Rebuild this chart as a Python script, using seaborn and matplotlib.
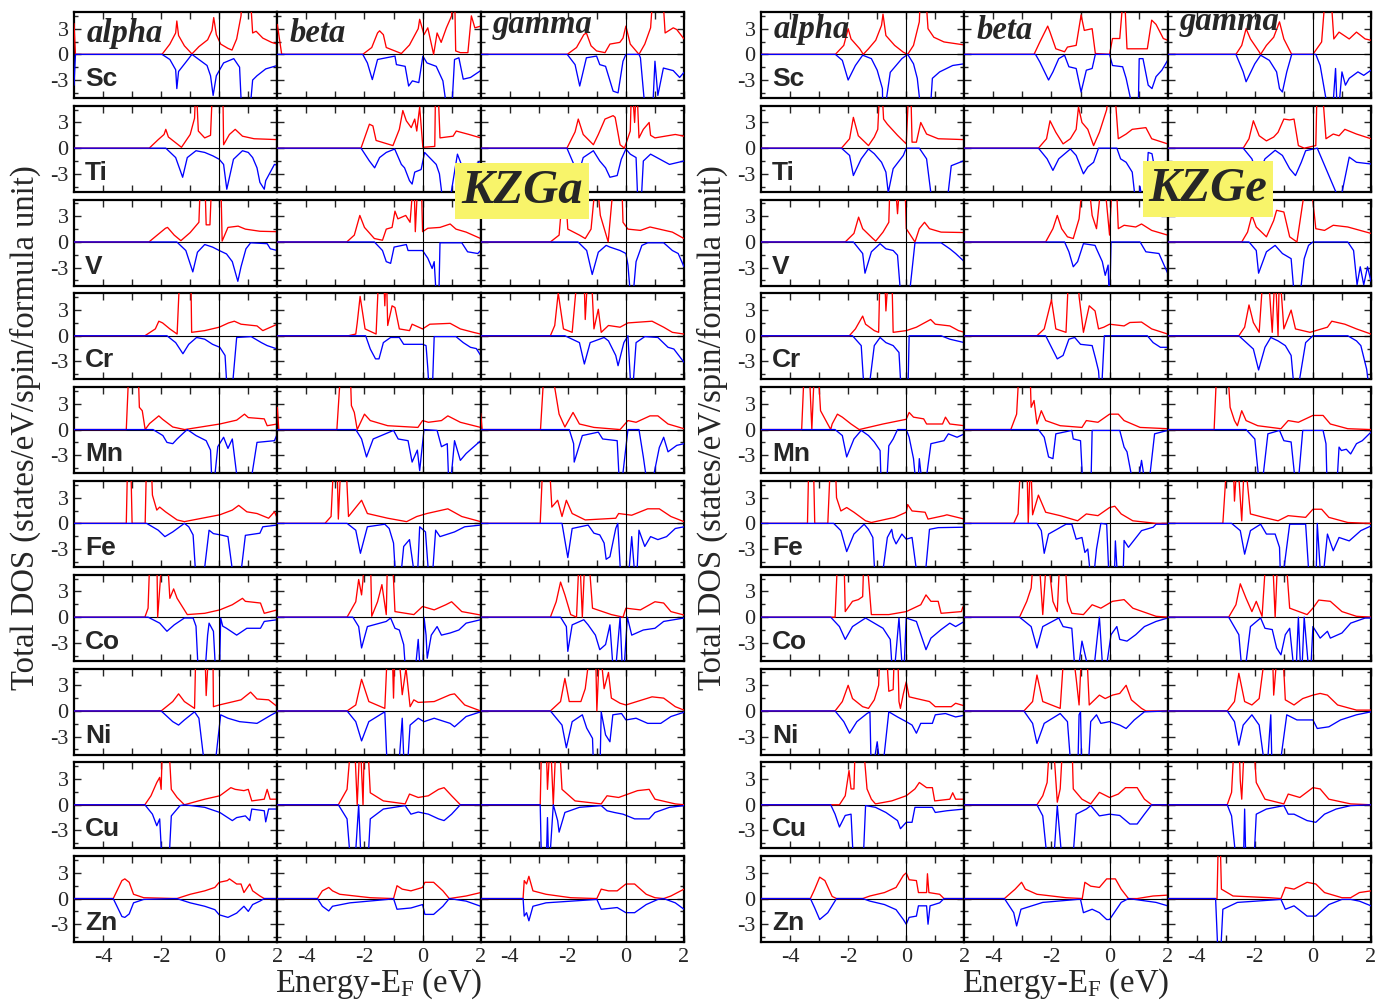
import matplotlib
matplotlib.use("Agg")
import matplotlib.pyplot as plt
import seaborn as sns

# ---------------- categories / labels ----------------
ELEMENTS = ['Sc', 'Ti', 'V', 'Cr', 'Mn', 'Fe', 'Co', 'Ni', 'Cu', 'Zn']
STRUCTS = ['alpha', 'beta', 'gamma']
COMPOUNDS = ['ga', 'ge']
COMPOUND_LABELS = {'ga': 'KZGa', 'ge': 'KZGe'}
X_TICKS = [-4, -2, 0, 2]
Y_TICKS = [-3, 0, 3]
X_LABEL = 'Energy-E$_{\\mathrm{F}}$ (eV)'
Y_LABEL = 'Total DOS (states/eV/spin/formula unit)'

# ---------------- DOS data (energy eV, DOS) ; spin-up = red, spin-down = blue ----------------
# ---- KZGa ----
ga_alpha_Sc_up = [(-5.0,3.6),(-4.95,0),(-1.97,0),(-1.7,1.2),(-1.5,2.5),(-1.46,3.9),(-1.4,2.2),(-1.2,1.0),(-0.94,0.05),(-0.7,0.9),(-0.4,1.7),(-0.25,2.8),(-0.19,4.3),(-0.1,2.3),(0.05,1.2),(0.3,0.7),(0.44,0.5),(0.6,1.8),(0.75,4.5),(0.8,8),(1.05,8),(1.15,2.5),(1.27,2.7),(1.5,1.9),(1.8,1.4),(2.0,1.2)]
ga_alpha_Sc_dn = [(-5.0,-3.6),(-4.95,0),(-1.97,0),(-1.7,-0.6),(-1.5,-1.8),(-1.46,-4.0),(-1.4,-2.0),(-1.1,-0.7),(-0.94,0),(-0.7,-0.6),(-0.42,-1.3),(-0.3,-2.5),(-0.21,-4.8),(-0.1,-2.5),(0.15,-1.0),(0.5,-0.5),(0.7,-1.5),(0.79,-8),(1.02,-8),(1.15,-3.0),(1.3,-2.5),(1.6,-1.7),(2.0,-1.3)]
ga_beta_Sc_up = [(-5.0,3.5),(-4.85,0),(-2.06,0),(-1.75,0.8),(-1.55,2.5),(-1.48,2.75),(-1.35,2.3),(-1.25,0.8),(-0.73,0.1),(-0.45,1.1),(-0.15,3.0),(-0.1,4.1),(0.05,2.3),(0.18,3.1),(0.38,0.0),(0.5,2.5),(0.64,1.4),(0.82,3.1),(1.0,4.5),(1.05,8),(1.1,8),(1.14,0.4),(1.3,0.2),(1.56,0.2),(1.68,4.5),(1.8,3.1),(2.0,3.3)]
ga_beta_Sc_dn = [(-2.06,0),(-1.9,-1.0),(-1.73,-2.95),(-1.55,-0.6),(-1.25,-0.4),(-0.95,-0.2),(-0.9,-1.2),(-0.6,-1.4),(-0.48,-3.7),(-0.35,-3.1),(-0.13,-3.3),(0.01,-0.2),(0.15,-1.0),(0.47,-1.4),(0.7,-3.1),(0.9,-8),(0.98,-8),(1.1,-0.6),(1.25,-0.4),(1.4,-2.9),(1.65,-2.7),(2.0,-1.9)]
ga_gamma_Sc_up = [(-2.02,0),(-1.7,0.8),(-1.45,2.3),(-1.36,2.5),(-1.2,1.0),(-1.01,0.4),(-0.72,0.2),(-0.55,1.2),(-0.21,1.4),(-0.1,1.9),(0.0,3.3),(0.15,1.2),(0.45,0.0),(0.65,1.2),(0.85,3.1),(0.95,8),(1.25,8),(1.35,2.5),(1.63,3.1),(1.75,2.9),(2.0,1.8)]
ga_gamma_Sc_dn = [(-2.02,0),(-1.75,-1.2),(-1.59,-3.7),(-1.36,-0.4),(-1.01,-0.2),(-0.9,-1.2),(-0.7,-1.4),(-0.44,-4.3),(-0.27,-4.5),(-0.1,-0.8),(0.0,0),(0.45,0),(0.5,-0.4),(0.7,-8),(0.9,-8),(1.0,-0.8),(1.1,-4.8),(1.29,-1.6),(1.63,-1.9),(1.85,-2.7),(2.0,-2.1)]

ga_alpha_Ti_up = [(-2.41,0),(-2.1,1.0),(-1.9,1.6),(-1.84,2.2),(-1.75,1.3),(-1.3,0.1),(-1.0,1.6),(-0.85,3.5),(-0.8,8),(-0.72,2.0),(-0.5,1.2),(-0.3,1.5),(-0.22,8),(0.12,8),(0.15,0.4),(0.35,1.6),(0.55,2.2),(0.8,1.4),(1.2,1.1),(2.0,1.0)]
ga_alpha_Ti_dn = [(-1.84,0),(-1.5,-1.1),(-1.26,-3.4),(-1.1,-1.1),(-0.8,-0.3),(-0.5,-0.5),(-0.22,-0.9),(0.0,-1.3),(0.15,-1.9),(0.26,-4.8),(0.49,-1.3),(0.8,-0.3),(1.0,-0.5),(1.15,-1.1),(1.3,-2.3),(1.4,-4.0),(1.55,-4.8),(1.6,-3.8),(1.9,-1.9),(2.0,-2.0)]
ga_beta_Ti_up = [(-2.12,0),(-1.83,2.8),(-1.71,2.6),(-1.6,0.9),(-1.02,0.3),(-0.8,2.2),(-0.68,4.4),(-0.56,3.2),(-0.39,2.4),(-0.27,3.4),(-0.2,2.0),(-0.1,4.8),(0.01,0.1),(0.42,0.2),(0.45,8),(0.52,8),(0.6,1.2),(1.05,1.4),(1.16,2.0),(1.6,1.6),(2.0,1.2)]
ga_beta_Ti_dn = [(-2.12,0),(-1.83,-1.5),(-1.65,-2.3),(-1.48,-1.1),(-1.25,-0.5),(-0.96,-0.1),(-0.73,-1.9),(-0.62,-2.3),(-0.45,-3.8),(-0.36,-4.2),(-0.27,-2.8),(-0.05,-2.5),(0.07,-0.5),(0.24,-1.1),(0.47,-1.9),(0.58,-3.0),(0.76,-8),(0.85,-8),(1.2,-0.7),(1.38,-2.3),(1.73,-2.1),(2.0,-1.5)]
ga_gamma_Ti_up = [(-2.03,0),(-1.75,1.9),(-1.64,3.4),(-1.47,1.6),(-1.12,0.4),(-0.95,1.6),(-0.72,3.4),(-0.44,3.8),(-0.37,3.6),(-0.2,0.4),(-0.05,0.0),(0.15,2.0),(0.2,8),(0.3,3.0),(0.37,8),(0.45,1.2),(0.6,2.2),(0.8,3.0),(0.85,1.5),(1.0,1.2),(1.7,1.6),(2.0,1.4)]
ga_gamma_Ti_dn = [(-2.03,0),(-1.64,-3.1),(-1.47,-1.1),(-1.12,-0.3),(-0.9,-1.5),(-0.7,-2.3),(-0.55,-3.4),(-0.3,-3.2),(-0.16,-1.3),(0.0,-0.1),(0.15,-0.7),(0.35,-1.1),(0.43,-8),(0.5,-8),(0.6,-1.5),(0.85,-0.7),(1.5,-1.9),(2.0,-1.5)]

ga_alpha_V_up = [(-2.42,0),(-2.1,0.9),(-1.85,1.6),(-1.78,1.7),(-1.55,0.8),(-1.32,0.15),(-1.0,1.1),(-0.7,2.3),(-0.64,8),(-0.5,8),(-0.45,2.0),(-0.32,2.0),(-0.25,8),(0.05,8),(0.1,0.1),(0.3,1.7),(0.65,1.85),(0.9,1.5),(1.4,1.25),(2.0,1.2)]
ga_alpha_V_dn = [(-1.46,0),(-1.15,-1.0),(-0.91,-3.5),(-0.75,-1.2),(-0.5,-0.3),(-0.23,-0.6),(0.0,-1.0),(0.25,-1.4),(0.45,-2.3),(0.64,-4.6),(0.75,-2.9),(0.92,-0.8),(1.08,-0.1),(1.65,-0.2),(1.76,-0.8),(2.0,-1.0)]
ga_beta_V_up = [(-2.61,0),(-2.35,0.8),(-2.16,3.1),(-2.0,1.7),(-1.66,0.4),(-1.38,0.2),(-1.25,1.5),(-1.05,1.7),(-0.95,3.6),(-0.85,2.7),(-0.58,3.1),(-0.43,2.3),(-0.3,8),(-0.25,1.2),(-0.15,8),(-0.05,8),(0.0,1.2),(0.18,1.6),(0.6,1.7),(0.95,2.1),(1.15,1.5),(1.5,1.15),(2.0,0.4)]
ga_beta_V_dn = [(-1.66,0),(-1.38,-1.0),(-1.25,-2.3),(-1.1,-2.5),(-0.98,-0.6),(-0.56,-0.3),(-0.5,-1.0),(0.0,-1.0),(0.18,-1.9),(0.33,-3.1),(0.4,-2.3),(0.5,-8),(0.55,-8),(0.6,-0.1),(1.35,-0.1),(1.55,-1.15),(1.9,-1.35),(2.0,-1.0)]
ga_gamma_V_up = [(-2.6,0),(-2.3,0.8),(-2.12,8),(-2.0,1.5),(-1.6,0.8),(-1.4,0.4),(-1.2,1.5),(-1.02,8),(-0.88,3.1),(-0.61,0.0),(-0.4,8),(-0.15,8),(-0.1,2.3),(0.07,1.5),(0.5,1.35),(0.83,1.75),(1.6,1.15),(2.0,0.4)]
ga_gamma_V_dn = [(-1.65,0),(-1.35,-1.0),(-1.16,-3.8),(-0.95,-1.2),(-0.68,-0.4),(-0.55,-0.6),(-0.2,-1.0),(0.0,-1.35),(0.07,-2.7),(0.2,-8),(0.35,-2.3),(0.55,-0.4),(0.75,-0.1),(1.3,-0.1),(1.6,-1.0),(1.8,-1.35),(2.0,-2.9)]

ga_alpha_Cr_up = [(-2.56,0),(-2.2,0.8),(-2.08,1.7),(-1.95,1.5),(-1.7,0.8),(-1.45,0.2),(-1.35,8),(-0.98,8),(-0.95,0.4),(-0.5,0.6),(0.0,1.0),(0.32,1.5),(0.52,1.7),(0.75,1.35),(1.3,1.15),(1.5,0.6),(2.0,1.35)]
ga_alpha_Cr_dn = [(-1.8,0),(-1.5,-0.8),(-1.25,-2.1),(-1.05,-1.0),(-0.78,-0.2),(-0.5,-0.4),(-0.23,-1.0),(0.02,-1.35),(0.2,-2.3),(0.3,-8),(0.4,-8),(0.6,-0.2),(1.1,-0.1),(1.45,-0.8),(1.65,-1.15),(2.0,-1.55)]
ga_beta_Cr_up = [(-2.56,0),(-2.3,0.2),(-2.25,1.5),(-2.15,4.6),(-1.98,0.8),(-1.6,0.2),(-1.5,8),(-1.35,8),(-1.3,3.5),(-1.25,8),(-1.2,1.2),(-1.05,3.5),(-0.95,3.3),(-0.8,0.8),(-0.45,0.6),(-0.36,1.35),(0.0,0.8),(0.25,1.35),(0.95,1.45),(1.3,0.8),(1.75,0.4),(2.0,0.2)]
ga_beta_Cr_dn = [(-1.96,0),(-1.8,-1.55),(-1.62,-2.7),(-1.5,-2.7),(-1.35,-0.8),(-1.1,-0.2),(-0.8,-0.2),(-0.65,-1.0),(0.0,-1.0),(0.12,-1.15),(0.18,-3.8),(0.25,-8),(0.32,-8),(0.4,-0.1),(1.15,-0.1),(1.4,-0.8),(1.65,-1.35),(1.85,-1.5),(2.0,-2.3)]
ga_gamma_Cr_up = [(-2.6,0),(-2.45,1.2),(-2.33,5.0),(-2.15,0.8),(-1.85,0.4),(-1.65,8),(-1.45,8),(-1.4,1.9),(-1.3,8),(-1.2,8),(-1.1,0.8),(-0.95,3.1),(-0.85,0.4),(-0.6,1.2),(-0.2,1.0),(0.07,1.5),(0.9,1.7),(1.3,1.0),(1.6,0.4),(2.0,0.2)]
ga_gamma_Cr_dn = [(-2.1,0),(-1.6,-0.8),(-1.43,-3.3),(-1.23,-0.8),(-0.75,-0.2),(-0.6,-0.6),(-0.35,-2.3),(-0.27,-3.5),(-0.07,-0.8),(0.07,0),(0.2,-8),(0.35,-0.8),(0.65,-0.1),(1.1,-0.2),(1.45,-1.35),(1.65,-1.55),(2.0,-3.1)]

ga_alpha_Mn_up = [(-3.2,0),(-3.1,8),(-2.8,8),(-2.75,2.6),(-2.65,2.2),(-2.55,0),(-2.4,0.7),(-2.08,1.6),(-1.95,1.2),(-1.6,0.3),(-1.19,0),(0.02,0.65),(0.6,1.1),(0.87,1.8),(1.0,1.4),(1.55,1.25),(1.65,0.45),(2.0,0.65)]
ga_alpha_Mn_dn = [(-2.28,0),(-1.94,-0.7),(-1.8,-1.5),(-1.6,-1.65),(-1.45,-1.1),(-1.2,-0.3),(-1.1,0),(-0.8,-0.7),(-0.45,-1.3),(-0.3,-2.4),(-0.23,-8),(-0.05,-2.0),(0.15,-0.9),(0.3,-2.2),(0.45,-1.1),(0.7,-8),(1.0,-8),(1.3,-1.5),(1.9,-1.3),(2.0,-0.5)]
ga_beta_Mn_up = [(-5.0,2.6),(-4.95,0),(-2.95,0),(-2.8,8),(-2.5,8),(-2.45,2.8),(-2.35,2.0),(-2.25,0),(-2.0,1.8),(-1.8,1.05),(-1.2,0.45),(-0.16,0.25),(0.0,1.05),(0.2,0.85),(0.65,1.05),(0.87,1.6),(1.3,0.85),(2.0,0.25)]
ga_beta_Mn_dn = [(-2.3,0),(-2.1,-1.1),(-1.93,-3.2),(-1.7,-1.1),(-1.0,-0.1),(-0.84,-1.1),(-0.5,-1.3),(-0.36,-3.8),(-0.18,-2.4),(-0.1,-4.8),(0.05,0),(0.5,-0.1),(0.65,-2.0),(0.85,-1.65),(0.92,-8),(1.1,-1.3),(1.3,-3.6),(1.5,-2.8),(2.0,-1.3)]
ga_gamma_Mn_up = [(-5.0,1.9),(-4.95,0),(-2.94,0),(-2.8,8),(-2.6,8),(-2.3,1.8),(-2.1,0.3),(-1.82,2.0),(-1.6,0.65),(-1.1,0.25),(-0.2,0.0),(0.07,1.05),(0.35,0.85),(0.83,1.6),(1.1,1.6),(1.45,0.65),(2.0,0.1)]
ga_gamma_Mn_dn = [(-1.95,0),(-1.8,-1.65),(-1.78,-3.8),(-1.5,-0.7),(-0.95,-0.3),(-0.8,-1.1),(-0.3,-1.3),(-0.2,-8),(0.07,0),(0.45,0),(0.6,-3.2),(0.8,-8),(1.15,-2.1),(1.3,-0.9),(1.45,-2.6),(1.75,-1.85),(2.0,-1.65)]

ga_alpha_Fe_up = [(-3.2,0),(-3.15,8),(-3.05,8),(-3.0,0),(-2.55,0),(-2.5,8),(-2.35,8),(-2.3,3.3),(-2.15,1.55),(-2.05,1.9),(-1.85,1.35),(-1.45,0.4),(-1.2,0.2),(0.02,1.0),(0.45,1.55),(0.67,2.1),(0.95,1.35),(1.3,1.15),(1.7,0.6),(1.9,1.35),(2.0,0.6)]
ga_alpha_Fe_dn = [(-2.5,0),(-2.1,-0.8),(-1.87,-1.55),(-1.6,-1.0),(-1.2,0),(-1.05,-0.4),(-0.9,-1.35),(-0.77,-8),(-0.6,-8),(-0.35,-0.8),(-0.2,-1.2),(0.05,-1.35),(0.3,-1.55),(0.55,-8),(0.67,-8),(0.9,-1.4),(1.4,-1.15),(1.5,-0.4),(2.0,-0.2)]
ga_beta_Fe_up = [(-3.36,0),(-3.15,0.8),(-3.05,8),(-2.95,8),(-2.9,0.5),(-2.8,8),(-2.65,8),(-2.55,0.8),(-2.1,2.7),(-1.9,1.15),(-1.2,0.6),(-0.55,0.2),(-0.2,0.8),(0.15,1.15),(0.87,1.7),(1.35,0.8),(2.0,0.2)]
ga_beta_Fe_dn = [(-2.6,0),(-2.3,-0.8),(-2.14,-3.5),(-1.9,-0.4),(-1.3,-0.1),(-1.15,-0.6),(-1.0,-2.3),(-0.9,-8),(-0.8,-8),(-0.65,-2.7),(-0.45,-1.9),(-0.2,-8),(-0.1,-0.4),(0.1,-1.0),(0.25,-8),(0.3,-8),(0.45,-0.8),(0.6,-1.55),(1.1,-1.0),(1.45,-0.4),(2.0,-0.2)]
ga_gamma_Fe_up = [(-2.95,0),(-2.85,8),(-2.65,8),(-2.55,1.9),(-2.35,2.7),(-2.2,0.8),(-2.05,2.7),(-1.85,1.15),(-1.4,0.4),(-0.35,0.6),(-0.25,1.15),(0.2,0.95),(0.75,1.7),(1.15,1.7),(1.55,0.8),(2.0,0.2)]
ga_gamma_Fe_dn = [(-2.2,0),(-2.0,-4.0),(-1.85,-0.6),(-1.3,-0.2),(-1.1,-1.15),(-0.9,-1.35),(-0.75,-2.3),(-0.68,-4.2),(-0.55,-3.9),(-0.35,-0.6),(-0.28,0),(-0.15,-8),(0.05,-8),(0.2,-1.55),(0.35,-8),(0.45,-0.8),(0.65,-2.7),(0.85,-1.55),(1.1,-1.9),(1.4,-1.55),(1.7,-0.6),(2.0,-0.4)]

ga_alpha_Co_up = [(-2.56,0),(-2.45,1.05),(-2.38,8),(-2.15,8),(-2.12,0),(-2.05,3.3),(-1.95,8),(-1.8,8),(-1.7,2.2),(-1.57,3.3),(-1.45,2.2),(-1.1,0.3),(-0.5,0.45),(0.02,0.85),(0.45,1.45),(0.8,2.2),(0.9,1.85),(1.42,1.65),(1.55,0.45),(2.0,0.85)]
ga_alpha_Co_dn = [(-2.45,0),(-2.05,-0.7),(-1.8,-1.65),(-1.55,-0.9),(-1.2,-0.1),(-0.9,-0.1),(-0.8,-1.05),(-0.7,-8),(-0.52,-8),(-0.4,-2.1),(-0.35,-0.7),(-0.2,-1.65),(-0.1,-8),(0.0,-8),(0.05,-0.1),(0.12,-1.05),(0.25,-1.3),(0.6,-2.1),(0.95,-1.3),(1.42,-1.3),(1.55,-0.5),(2.0,-0.3)]
ga_beta_Co_up = [(-2.6,0),(-2.3,1.8),(-2.2,4.4),(-2.1,2.6),(-2.05,4.4),(-1.98,8),(-1.8,8),(-1.75,0.1),(-1.55,1.8),(-1.4,3.8),(-1.25,0.3),(-1.2,8),(-1.05,8),(-0.95,0.65),(-0.3,0.3),(0.0,1.25),(0.4,0.85),(0.8,1.45),(1.0,1.8),(1.35,0.65),(2.0,0.25)]
ga_beta_Co_dn = [(-2.4,0),(-2.2,-1.1),(-2.1,-3.6),(-1.9,-1.1),(-1.25,-0.5),(-1.1,-0.1),(-0.95,-1.3),(-0.8,-1.5),(-0.65,-3.2),(-0.55,-8),(-0.3,-8),(-0.15,-2.6),(-0.05,-8),(0.0,-8),(0.05,0),(0.12,-2.1),(0.16,-4.8),(0.3,-2.1),(0.5,-1.1),(0.65,-2.1),(0.95,-1.85),(1.25,-1.5),(1.5,-0.7),(2.0,-0.3)]
ga_gamma_Co_up = [(-2.6,0),(-2.4,1.8),(-2.25,4.1),(-2.1,2.6),(-1.9,0.3),(-1.7,0),(-1.6,8),(-1.5,0),(-1.4,8),(-1.3,8),(-1.15,1.05),(-0.5,0.3),(-0.1,0),(0.0,1.05),(0.5,0.85),(1.0,1.8),(1.3,1.65),(1.55,0.65),(2.0,0.25)]
ga_gamma_Co_dn = [(-2.25,0),(-2.05,-1.1),(-2.0,-4.0),(-1.85,-0.9),(-1.45,-0.3),(-1.3,-0.9),(-1.05,-2.1),(-0.9,-3.8),(-0.7,-3.2),(-0.55,-0.9),(-0.4,-8),(-0.2,0),(-0.1,-8),(0.05,0),(0.2,-2.1),(0.6,-1.5),(1.0,-1.3),(1.3,-0.5),(2.0,-0.1)]

ga_alpha_Ni_up = [(-2.0,0),(-1.6,1.1),(-1.4,2.0),(-1.2,1.1),(-0.85,0.3),(-0.8,8),(-0.5,8),(-0.45,1.8),(-0.35,8),(-0.22,8),(-0.2,0.5),(0.0,0.7),(0.75,1.3),(1.08,2.2),(1.3,1.4),(1.7,1.3),(2.0,0.5)]
ga_alpha_Ni_dn = [(-2.0,0),(-1.6,-1.25),(-1.4,-1.65),(-1.2,-1.05),(-0.85,-0.1),(-0.7,-0.85),(-0.45,-8),(-0.2,-8),(0.05,-0.45),(0.3,-0.85),(0.7,-1.25),(1.3,-1.45),(1.8,-0.45),(2.0,-0.1)]
ga_beta_Ni_up = [(-2.6,0),(-2.3,0.7),(-2.1,3.7),(-1.85,1.1),(-1.3,0.3),(-1.2,8),(-1.05,8),(-1.0,1.5),(-0.95,8),(-0.85,8),(-0.7,1.9),(-0.57,5.0),(-0.43,0.5),(-0.3,1.3),(-0.15,1.0),(0.4,1.1),(0.95,1.9),(1.1,2.0),(1.45,0.7),(2.0,0)]
ga_beta_Ni_dn = [(-2.6,0),(-2.3,-1.25),(-2.1,-3.5),(-1.85,-1.25),(-1.3,-0.1),(-1.2,-8),(-0.85,-8),(-0.7,-0.85),(-0.62,-8),(-0.55,-8),(-0.43,-1.65),(-0.15,-0.85),(0.05,-1.25),(0.4,-0.85),(0.95,-1.45),(1.1,-1.85),(1.5,-0.65),(2.0,-0.1)]
ga_gamma_Ni_up = [(-2.6,0),(-2.25,1.1),(-2.1,3.8),(-1.95,1.1),(-1.55,1.1),(-1.4,2.6),(-1.2,8),(-1.05,8),(-1.0,0),(-0.9,8),(-0.75,2.6),(-0.6,4.5),(-0.5,1.5),(-0.2,0.9),(0.0,0.7),(0.9,1.65),(1.3,1.5),(1.7,0.5),(2.0,0.1)]
ga_gamma_Ni_dn = [(-2.6,0),(-2.2,-1.65),(-2.05,-4.3),(-1.85,-1.25),(-1.5,-0.45),(-1.35,-2.0),(-1.15,-3.2),(-1.1,-8),(-0.9,-8),(-0.85,-0.1),(-0.7,-2.8),(-0.55,-3.6),(-0.45,-0.45),(-0.15,-0.3),(0.0,-1.05),(0.35,-0.85),(0.75,-1.45),(1.2,-1.45),(1.55,-0.65),(2.0,-0.15)]

ga_alpha_Cu_up = [(-2.56,0),(-2.35,1.05),(-2.15,2.6),(-2.05,3.2),(-2.0,1.8),(-1.95,8),(-1.75,8),(-1.65,1.8),(-1.45,0.85),(-1.2,0),(-0.5,0.65),(0.02,1.05),(0.4,2.0),(0.55,1.8),(0.85,1.65),(1.0,1.8),(1.12,0.45),(1.55,0.65),(1.65,1.8),(1.75,0.65),(2.0,0.65)]
ga_alpha_Cu_dn = [(-2.56,0),(-2.3,-1.1),(-2.15,-2.45),(-2.05,-1.65),(-1.95,-8),(-1.75,-8),(-1.65,-1.3),(-1.35,-0.1),(-1.2,0),(-0.5,-0.3),(0.02,-0.9),(0.45,-1.85),(0.6,-1.5),(0.9,-1.3),(1.05,-1.85),(1.12,-0.5),(1.55,-0.7),(1.6,-2.0),(1.7,-0.5),(2.0,-0.5)]
ga_beta_Cu_up = [(-2.9,0),(-2.6,1.8),(-2.45,8),(-2.35,8),(-2.25,0),(-2.15,8),(-2.05,0),(-2.0,8),(-1.9,8),(-1.8,1.4),(-1.35,0.45),(-0.6,0.1),(-0.45,1.25),(-0.15,0.85),(0.2,1.05),(0.55,1.8),(0.74,2.0),(1.0,1.05),(1.3,0),(2.0,0)]
ga_beta_Cu_dn = [(-2.9,0),(-2.6,-1.65),(-2.45,-8),(-2.35,-8),(-2.2,0),(-2.1,-8),(-1.9,-8),(-1.8,-1.65),(-1.35,-0.5),(-0.6,-0.1),(-0.4,-1.1),(-0.15,-0.85),(0.2,-1.1),(0.55,-1.65),(0.74,-1.85),(1.0,-1.1),(1.3,0),(2.0,0)]
ga_gamma_Cu_up = [(-2.95,0),(-2.9,8),(-2.75,8),(-2.7,1.8),(-2.6,8),(-2.5,0),(-2.4,8),(-2.3,8),(-2.2,1.8),(-1.75,0.45),(-0.85,0.1),(-0.65,1.05),(-0.25,0.85),(0.4,1.65),(0.8,1.8),(1.0,0.65),(1.7,0.1),(2.0,0)]
ga_gamma_Cu_dn = [(-2.95,0),(-2.9,-8),(-2.75,-8),(-2.7,-1.5),(-2.65,-8),(-2.5,0),(-2.35,-1.85),(-2.3,-3.2),(-2.1,-0.9),(-1.6,-0.3),(-0.85,-0.1),(-0.65,-0.7),(-0.4,-0.9),(-0.1,-1.1),(0.3,-1.65),(0.8,-1.65),(1.0,-0.9),(1.5,-0.3),(2.0,-0.1)]

ga_alpha_Zn_up = [(-3.65,0),(-3.35,2.1),(-3.25,2.3),(-3.1,1.9),(-2.95,0.5),(-2.6,0.1),(-1.46,0),(-1.0,0.5),(-0.5,0.9),(-0.15,1.3),(0.0,1.9),(0.28,2.1),(0.35,2.3),(0.6,1.7),(0.75,1.7),(0.85,0.7),(1.05,1.7),(1.15,0.9),(1.4,0.3),(1.55,0),(2.0,0)]
ga_alpha_Zn_dn = [(-3.65,0),(-3.35,-2.1),(-3.25,-2.2),(-3.1,-1.8),(-2.95,-0.5),(-2.6,-0.1),(-1.46,0),(-1.0,-0.5),(-0.5,-0.9),(-0.15,-1.3),(0.0,-1.9),(0.3,-2.2),(0.6,-1.7),(0.85,-0.9),(1.0,-1.5),(1.15,-0.7),(1.4,-0.3),(1.55,0),(2.0,0)]
ga_beta_Zn_up = [(-3.62,0),(-3.45,0.9),(-3.23,1.3),(-3.1,0.9),(-2.85,0.5),(-1.8,0.1),(-1.0,0),(-0.88,1.5),(-0.7,1.1),(-0.4,0.9),(0.0,1.3),(0.08,1.9),(0.38,1.9),(0.7,0.9),(0.92,0),(1.5,0.3),(2.0,0.7)]
ga_beta_Zn_dn = [(-3.62,0),(-3.45,-0.9),(-3.23,-1.45),(-3.1,-0.9),(-2.5,-0.5),(-1.2,-0.1),(-1.0,0),(-0.88,-1.25),(-0.4,-1.1),(0.0,-0.7),(0.08,-1.85),(0.38,-1.85),(0.7,-0.9),(0.92,0),(1.5,-0.3),(2.0,-0.9)]
ga_gamma_Zn_up = [(-3.54,0),(-3.5,2.1),(-3.42,1.7),(-3.34,2.6),(-3.2,0.9),(-2.75,0.5),(-1.9,0.1),(-1.0,0),(-0.85,1.1),(-0.6,0.9),(-0.3,0.9),(0.0,1.7),(0.3,1.7),(0.7,0.5),(1.0,0.1),(1.3,0),(1.55,0.3),(2.0,1.1)]
ga_gamma_Zn_dn = [(-3.54,0),(-3.5,-2.05),(-3.42,-1.65),(-3.34,-2.6),(-3.2,-0.9),(-2.75,-0.5),(-1.0,-0.1),(-0.85,-1.25),(-0.3,-1.05),(0.0,-1.65),(0.3,-1.65),(0.7,-0.7),(1.1,-0.1),(1.3,0),(1.7,-0.5),(2.0,-1.25)]

# ---- KZGe ----
ge_alpha_Sc_up = [(-2.44,0),(-2.15,1.05),(-2.0,3.0),(-1.9,1.8),(-1.6,0.65),(-1.48,0),(-1.3,0.65),(-1.05,1.65),(-0.85,3.4),(-0.8,4.7),(-0.7,2.2),(-0.4,1.05),(-0.1,0.25),(0.05,0),(0.25,1.05),(0.45,3.8),(0.5,8),(0.65,8),(0.75,3.0),(0.95,2.0),(1.3,1.45),(2.0,1.1)]
ge_alpha_Sc_dn = [(-2.44,0),(-2.2,-0.7),(-2.0,-3.0),(-1.75,-1.3),(-1.5,-0.1),(-1.2,-0.5),(-1.0,-1.85),(-0.82,-4.0),(-0.8,-8),(-0.55,-2.1),(-0.15,-0.5),(0.05,0),(0.25,-1.1),(0.38,-2.8),(0.55,-8),(0.8,-8),(0.9,-2.8),(1.15,-2.05),(1.6,-1.3),(2.0,-1.1)]
ge_beta_Sc_up = [(-2.6,0),(-2.4,1.45),(-2.13,3.3),(-2.05,2.6),(-1.85,0.65),(-1.55,0.3),(-1.45,0.85),(-1.15,1.05),(-0.98,4.6),(-0.87,2.8),(-0.6,3.0),(-0.49,0.1),(0.0,0),(0.1,1.85),(0.35,1.85),(0.5,8),(0.6,0.65),(1.3,0.65),(1.45,4.0),(1.6,3.5),(1.85,1.85),(2.0,1.65)]
ge_beta_Sc_dn = [(-2.55,0),(-2.4,-0.9),(-2.1,-3.0),(-1.95,-2.05),(-1.75,-0.5),(-1.55,-0.1),(-1.4,-1.45),(-1.15,-1.65),(-0.98,-4.4),(-0.8,-1.85),(-0.6,-1.65),(-0.49,0),(0.0,0),(0.1,-1.3),(0.45,-1.45),(0.57,-2.8),(0.9,-8),(0.98,-8),(1.02,-0.5),(1.15,-0.5),(1.33,-3.6),(1.46,-4.0),(1.6,-2.6),(1.8,-1.85),(2.0,-0.7)]
ge_gamma_Sc_up = [(-2.65,0),(-2.45,1.05),(-2.3,3.0),(-2.15,1.8),(-1.85,0.3),(-1.8,0),(-1.6,1.05),(-1.35,2.0),(-1.15,3.8),(-1.0,1.8),(-0.73,0),(0.0,0),(0.3,1.45),(0.45,8),(0.6,8),(0.72,1.8),(0.9,2.6),(1.25,1.8),(1.5,2.6),(1.8,1.8),(2.0,1.65)]
ge_gamma_Sc_dn = [(-2.65,0),(-2.4,-2.05),(-2.3,-3.2),(-2.0,-1.1),(-1.8,-0.1),(-1.5,-0.7),(-1.25,-2.05),(-1.15,-4.0),(-1.05,-4.4),(-0.9,-2.05),(-0.73,0),(0.1,0),(0.25,-1.3),(0.45,-5.2),(0.65,-8),(0.78,-1.65),(0.85,-8),(1.0,-2.05),(1.12,-3.6),(1.25,-2.8),(1.55,-2.05),(1.75,-2.45),(2.0,-1.85)]

ge_alpha_Ti_up = [(-2.23,0),(-1.95,1.1),(-1.82,3.6),(-1.65,1.45),(-1.3,0.3),(-1.1,1.3),(-0.98,2.2),(-0.9,8),(-0.85,8),(-0.78,3.4),(-0.65,2.8),(-0.3,1.5),(0.0,0.5),(0.1,8),(0.15,8),(0.2,0.7),(0.35,0.7),(0.5,3.0),(0.7,1.65),(1.1,1.1),(2.0,1.0)]
ge_alpha_Ti_dn = [(-2.23,0),(-1.95,-0.85),(-1.82,-3.2),(-1.55,-1.25),(-1.3,-0.1),(-1.1,-0.65),(-0.85,-1.65),(-0.7,-2.8),(-0.62,-5.2),(-0.45,-2.4),(-0.1,-0.85),(0.0,0),(0.45,0),(0.7,-1.25),(0.95,-8),(1.35,-8),(1.55,-2.05),(2.0,-1.45)]
ge_beta_Ti_up = [(-2.45,0),(-2.17,1.1),(-2.05,3.2),(-1.85,1.85),(-1.6,0.5),(-1.35,1.1),(-1.15,2.2),(-1.07,4.8),(-0.95,3.0),(-0.75,2.2),(-0.55,0.3),(-0.35,1.85),(-0.1,4.5),(0.0,8),(0.15,8),(0.3,1.1),(0.57,1.65),(0.78,2.2),(1.25,2.4),(1.45,1.1),(2.0,0.5)]
ge_beta_Ti_dn = [(-2.45,0),(-2.15,-1.25),(-1.95,-2.6),(-1.75,-1.25),(-1.35,-0.1),(-1.15,-0.85),(-0.9,-3.0),(-0.75,-2.2),(-0.55,-1.65),(-0.38,0),(0.25,0),(0.38,-1.25),(0.57,-1.65),(0.78,-2.8),(0.95,-8),(1.05,-4.5),(1.2,-8),(1.33,-0.5),(1.46,-0.65),(1.85,-8),(2.0,-1.65)]
ge_gamma_Ti_up = [(-2.4,0),(-2.2,1.1),(-2.05,3.2),(-1.85,1.45),(-1.6,0.85),(-1.35,1.3),(-1.2,1.85),(-1.0,3.4),(-0.8,3.3),(-0.65,3.4),(-0.5,0.3),(-0.3,0),(0.1,0.3),(0.15,8),(0.3,8),(0.45,1.1),(0.7,1.65),(0.9,1.45),(1.1,2.2),(1.5,1.65),(2.0,1.1)]
ge_gamma_Ti_dn = [(-2.4,0),(-2.1,-1.25),(-1.9,-3.2),(-1.65,-1.25),(-1.3,-0.25),(-1.05,-0.85),(-0.8,-2.4),(-0.6,-3.2),(-0.4,-1.65),(-0.25,-0.3),(0.15,0),(0.4,-2.0),(0.8,-5.2),(1.0,-5.2),(1.25,-1.05),(1.5,-1.65),(2.0,-1.85)]

ge_alpha_V_up = [(-2.1,0),(-1.8,1.0),(-1.64,2.9),(-1.5,1.55),(-1.15,0.4),(-1.05,0.1),(-0.8,1.15),(-0.6,2.3),(-0.55,8),(-0.4,8),(-0.3,3.3),(-0.2,8),(-0.05,8),(0.0,1.55),(0.3,0),(0.45,1.55),(0.63,2.3),(0.8,1.55),(1.2,1.15),(2.0,1.1)]
ge_alpha_V_dn = [(-1.82,0),(-1.5,-1.35),(-1.42,-3.65),(-1.2,-1.15),(-0.9,-0.2),(-0.7,-0.8),(-0.45,-1.0),(-0.3,-1.55),(-0.15,-8),(0.05,-8),(0.3,-0.1),(1.2,-0.1),(1.5,-0.8),(1.7,-1.35),(2.0,-2.3)]
ge_beta_V_up = [(-2.2,0),(-1.95,1.55),(-1.8,3.1),(-1.65,1.55),(-1.45,0.6),(-1.25,0.4),(-1.05,2.7),(-0.9,8),(-0.75,8),(-0.6,3.1),(-0.45,1.55),(-0.25,8),(-0.2,8),(0.0,0.8),(0.1,8),(0.22,8),(0.3,1.55),(0.5,1.95),(0.9,1.75),(1.1,2.1),(1.45,1.35),(2.0,0.8)]
ge_beta_V_dn = [(-1.55,0),(-1.4,-1.15),(-1.25,-2.9),(-1.1,-2.3),(-0.9,-0.2),(-0.5,-0.4),(-0.45,-0.8),(-0.25,-2.3),(-0.15,-3.9),(-0.05,-2.7),(0.0,-8),(0.05,0),(1.05,0),(1.25,-1.15),(1.7,-1.35),(2.0,-3.65)]
ge_gamma_V_up = [(-2.45,0),(-2.25,1.15),(-2.1,3.1),(-1.95,1.75),(-1.6,0.6),(-1.35,2.5),(-1.25,3.7),(-1.0,3.5),(-0.8,0.6),(-0.55,0),(-0.2,8),(-0.1,8),(0.1,1.55),(0.4,1.35),(0.7,1.95),(1.2,1.75),(2.0,1.0)]
ge_gamma_V_dn = [(-2.2,0),(-1.95,-1.0),(-1.87,-3.65),(-1.6,-1.15),(-1.3,-0.4),(-1.05,-1.35),(-0.75,-1.95),(-0.6,-8),(-0.5,-8),(-0.3,-1.95),(-0.15,-0.4),(0.0,0),(1.2,0),(1.4,-1.0),(1.52,-5.0),(1.63,-2.9),(1.75,-5.0),(1.88,-2.9),(2.0,-4.6)]

ge_alpha_Cr_up = [(-1.96,0),(-1.75,0.8),(-1.5,2.3),(-1.4,1.35),(-1.1,0.6),(-0.95,0.4),(-0.9,8),(-0.75,8),(-0.7,2.9),(-0.6,8),(-0.5,8),(-0.45,0.4),(0.0,0.6),(0.35,1.0),(0.65,1.55),(0.84,1.9),(1.0,1.35),(1.5,1.15),(1.8,0.6),(2.0,0.4)]
ge_alpha_Cr_dn = [(-1.85,0),(-1.55,-1.15),(-1.42,-8),(-1.35,-8),(-1.1,-1.15),(-0.9,-0.2),(-0.7,-0.8),(-0.45,-1.15),(-0.25,-1.95),(-0.15,-8),(0.05,-8),(0.1,0),(1.2,0),(1.5,-0.4),(2.0,-0.8)]
ge_beta_Cr_up = [(-2.5,0),(-2.25,0.8),(-2.0,4.2),(-1.85,0.8),(-1.5,0.4),(-1.4,8),(-1.1,8),(-1.05,4.6),(-0.9,0.4),(-0.7,3.5),(-0.5,2.9),(-0.38,0.8),(-0.2,1.0),(0.0,1.35),(0.5,1.15),(0.7,1.55),(1.1,1.6),(1.45,0.8),(2.0,0.2)]
ge_beta_Cr_dn = [(-2.2,0),(-2.0,-1.35),(-1.8,-2.7),(-1.6,-2.3),(-1.4,-0.4),(-1.2,-0.2),(-1.0,-1.0),(-0.6,-1.15),(-0.48,-2.7),(-0.38,-4.1),(-0.3,-8),(-0.18,0),(1.3,0),(1.5,-0.8),(1.75,-1.35),(2.0,-1.35)]
ge_gamma_Cr_up = [(-2.55,0),(-2.35,1.0),(-2.2,3.6),(-2.05,1.55),(-1.85,0.4),(-1.7,8),(-1.55,8),(-1.4,0.4),(-1.3,8),(-1.2,0),(-1.15,8),(-1.0,0.8),(-0.75,3.0),(-0.6,0.8),(-0.1,0.4),(0.5,1.0),(0.65,1.7),(1.1,1.35),(1.5,0.8),(2.0,0.2)]
ge_gamma_Cr_dn = [(-2.55,0),(-2.05,-1.55),(-1.87,-4.0),(-1.65,-1.35),(-1.45,-0.2),(-1.2,-0.6),(-0.95,-1.15),(-0.75,-2.3),(-0.6,-8),(-0.25,-0.8),(0.0,0),(1.2,0),(1.5,-0.6),(1.65,-1.15),(1.85,-3.9),(2.0,-8)]

ge_alpha_Mn_up = [(-3.6,0),(-3.5,8),(-3.35,8),(-3.25,0),(-3.15,8),(-3.05,8),(-2.95,2.2),(-2.6,0),(-2.55,0.65),(-2.37,1.8),(-2.2,1.45),(-1.9,0.65),(-1.62,0),(-0.8,0.65),(0.0,1.2),(0.1,2.0),(0.25,1.45),(0.6,1.25),(0.7,0.65),(1.25,0.65),(1.35,1.45),(1.5,0.65),(2.0,0.45)]
ge_alpha_Mn_dn = [(-2.45,0),(-2.2,-0.7),(-2.05,-3.2),(-1.8,-1.1),(-1.55,-0.1),(-1.3,-0.7),(-1.1,-1.45),(-0.9,-2.45),(-0.85,-8),(-0.7,-8),(-0.6,-1.9),(-0.45,-1.1),(-0.3,0),(0.0,0),(0.1,-0.9),(0.25,-3.4),(0.38,-8),(0.45,-3.4),(0.6,-8),(0.85,-1.65),(1.3,-1.3),(1.45,-0.5),(1.75,-0.9),(2.0,-0.5)]
ge_beta_Mn_up = [(-3.4,0),(-3.2,1.8),(-3.1,8),(-2.75,8),(-2.7,2.6),(-2.6,3.4),(-2.5,0.65),(-2.35,2.2),(-2.2,1.05),(-1.7,0.45),(-0.95,0.25),(-0.8,1.05),(-0.4,0.85),(0.0,1.8),(0.3,1.8),(0.5,1.05),(1.05,0.25),(2.0,0.1)]
ge_beta_Mn_dn = [(-2.45,0),(-2.25,-0.9),(-2.1,-3.2),(-1.95,-3.4),(-1.85,-0.5),(-1.3,-0.1),(-1.25,-1.1),(-1.0,-1.3),(-0.9,-8),(-0.65,-8),(-0.6,-0.1),(0.35,-0.1),(0.5,-2.05),(0.6,-2.6),(0.9,-8),(1.1,-3.6),(1.3,-8),(1.55,-0.5),(2.0,-0.1)]
ge_gamma_Mn_up = [(-3.4,0),(-3.3,8),(-2.95,8),(-2.85,2.6),(-2.7,1.05),(-2.6,0.45),(-2.45,2.2),(-2.3,1.05),(-1.9,0.45),(-1.1,0.1),(-0.85,1.05),(-0.5,0.85),(0.0,1.65),(0.35,1.65),(0.6,0.65),(1.2,0.1),(2.0,0)]
ge_gamma_Mn_dn = [(-2.3,0),(-2.0,-1.1),(-1.8,-8),(-1.55,-0.5),(-1.15,-0.1),(-1.0,-1.3),(-0.75,-1.45),(-0.55,-8),(-0.35,-0.1),(0.35,-0.1),(0.45,-1.65),(0.5,-8),(0.8,-8),(0.9,-2.05),(0.98,-2.45),(1.15,-2.3),(1.3,-2.85),(1.5,-1.65),(1.7,-1.3),(2.0,-0.3)]

ge_alpha_Fe_up = [(-3.4,0),(-3.35,8),(-3.2,8),(-3.15,0),(-2.7,0),(-2.6,8),(-2.45,8),(-2.4,3.0),(-2.25,1.45),(-2.05,1.85),(-1.8,1.3),(-1.4,0.3),(-1.2,0.1),(-0.4,0.7),(0.0,1.3),(0.05,2.2),(0.2,1.45),(0.65,1.3),(0.75,0.5),(1.3,0.9),(1.4,1.0),(2.0,0.5)]
ge_alpha_Fe_dn = [(-2.5,0),(-2.25,-0.85),(-2.05,-3.3),(-1.8,-1.25),(-1.45,-0.1),(-1.3,-0.7),(-1.15,-1.65),(-1.05,-8),(-0.9,-8),(-0.65,-1.65),(-0.5,-0.7),(-0.45,-1.65),(-0.35,-2.4),(-0.15,-1.25),(0.0,-1.85),(0.2,-1.65),(0.45,-8),(0.6,-8),(0.8,-0.7),(1.1,-0.5),(2.0,-0.45)]
ge_beta_Fe_up = [(-3.3,0),(-3.15,1.1),(-3.05,8),(-2.85,8),(-2.8,0),(-2.72,8),(-2.65,1.0),(-2.45,3.3),(-2.35,2.5),(-2.2,1.3),(-1.7,0.9),(-1.1,0.3),(-0.8,1.1),(-0.4,0.9),(0.0,1.85),(0.18,2.0),(0.4,1.1),(0.8,0.3),(1.6,0),(2.0,0)]
ge_beta_Fe_dn = [(-2.5,0),(-2.35,-0.85),(-2.25,-3.5),(-2.1,-1.25),(-1.5,-0.1),(-1.3,-0.1),(-1.15,-1.85),(-0.95,-1.65),(-0.85,-3.4),(-0.75,-3.0),(-0.6,-8),(-0.45,-3.0),(-0.3,0),(-0.1,-0.1),(0.0,-8),(0.15,-8),(0.2,-2.05),(0.3,-8),(0.45,-8),(0.5,-2.0),(0.65,-2.8),(1.1,-0.85),(1.5,-0.45),(1.6,-0.1),(2.0,-0.1)]
ge_gamma_Fe_up = [(-3.1,0),(-2.95,8),(-2.75,8),(-2.7,2.6),(-2.6,8),(-2.45,0.3),(-2.35,8),(-2.15,1.1),(-1.7,0.7),(-1.2,0.3),(-0.85,0.9),(-0.25,0.7),(0.0,1.65),(0.3,1.65),(0.55,0.7),(1.2,0.1),(2.0,0)]
ge_gamma_Fe_dn = [(-2.8,0),(-2.5,-0.85),(-2.35,-3.6),(-2.15,-0.85),(-1.8,-0.1),(-1.6,-1.25),(-1.3,-1.25),(-1.15,-2.8),(-1.1,-8),(-0.8,-0.1),(-0.25,-0.1),(-0.1,-8),(0.1,-8),(0.15,0),(0.3,-8),(0.5,-1.25),(0.7,-3.2),(0.9,-1.65),(1.25,-2.05),(1.65,-0.85),(2.0,-0.3)]

ge_alpha_Co_up = [(-2.45,0),(-2.35,8),(-2.15,8),(-2.1,0.65),(-1.85,1.85),(-1.65,2.05),(-1.5,2.4),(-1.45,8),(-1.38,8),(-1.2,0.3),(-0.6,0.3),(0.0,0.65),(0.5,1.45),(0.68,2.6),(0.85,1.85),(1.1,1.85),(1.2,0.45),(1.9,0.65),(1.95,1.2),(2.0,0.85)]
ge_alpha_Co_dn = [(-2.6,0),(-2.3,-1.1),(-2.1,-2.6),(-1.85,-1.1),(-1.4,-0.1),(-1.1,-0.7),(-0.8,-1.3),(-0.55,-2.6),(-0.45,-8),(-0.25,-0.1),(-0.1,-8),(0.0,-0.1),(0.35,-0.5),(0.68,-3.8),(0.85,-2.45),(1.2,-1.45),(1.5,-0.7),(1.7,-1.1),(2.0,-0.5)]
ge_beta_Co_up = [(-3.1,0),(-2.85,1.85),(-2.7,3.4),(-2.6,8),(-2.45,8),(-2.3,0.3),(-2.15,8),(-1.95,1.85),(-1.8,0.65),(-1.7,8),(-1.55,8),(-1.45,1.85),(-1.3,0.45),(-0.9,0.3),(-0.6,1.45),(-0.3,1.05),(0.1,1.85),(0.5,2.05),(0.8,1.05),(1.6,0.1),(2.0,0)]
ge_beta_Co_dn = [(-3.1,0),(-2.7,-1.1),(-2.5,-3.6),(-2.3,-1.1),(-1.75,-0.1),(-1.6,-1.1),(-1.3,-1.3),(-1.15,-8),(-0.95,-2.8),(-0.6,-8),(-0.35,0),(-0.2,-8),(0.05,-2.05),(0.25,-1.1),(0.35,-2.6),(0.6,-2.8),(0.9,-2.05),(1.2,-1.1),(1.6,-0.5),(2.0,-0.1)]
ge_gamma_Co_up = [(-2.9,0),(-2.65,1.45),(-2.5,3.9),(-2.3,2.2),(-2.1,0.65),(-1.95,1.85),(-1.75,0.1),(-1.6,8),(-1.4,8),(-1.3,0),(-1.2,8),(-0.95,8),(-0.8,1.05),(-0.2,0.3),(0.0,1.05),(0.2,2.0),(0.6,1.85),(1.0,0.65),(1.5,0.1),(2.0,0)]
ge_gamma_Co_dn = [(-2.9,0),(-2.55,-2.05),(-2.4,-8),(-2.15,-1.1),(-1.8,-0.1),(-1.65,-1.3),(-1.4,-1.45),(-1.25,-3.6),(-1.1,-4.4),(-0.95,-2.05),(-0.8,-1.3),(-0.6,-8),(-0.5,0),(-0.4,-8),(-0.3,0),(-0.1,-8),(0.0,-1.1),(0.25,-2.45),(0.5,-1.65),(0.6,-2.45),(1.0,-1.85),(1.3,-0.7),(1.8,-0.1),(2.0,-0.1)]

ge_alpha_Ni_up = [(-2.45,0),(-2.2,1.1),(-2.0,3.0),(-1.85,1.45),(-1.5,0.5),(-1.3,0.3),(-1.1,1.3),(-0.95,3.0),(-0.9,8),(-0.7,8),(-0.6,2.3),(-0.45,2.5),(-0.4,8),(-0.3,8),(-0.25,1.1),(-0.2,0.3),(-0.1,2.0),(0.0,3.4),(0.1,1.65),(0.35,1.45),(0.8,1.1),(1.0,0.5),(1.55,0.5),(1.7,0.9),(2.0,0.6)]
ge_alpha_Ni_dn = [(-2.45,0),(-2.15,-1.25),(-1.95,-2.6),(-1.7,-1.25),(-1.35,-0.3),(-1.25,-0.1),(-1.2,-8),(-1.0,-3.6),(-0.85,-8),(-0.6,-0.1),(-0.3,-0.7),(0.0,-1.25),(0.2,-1.65),(0.35,-2.6),(0.5,-1.45),(0.9,-1.45),(1.0,-0.45),(1.35,-0.3),(1.7,-0.7),(2.0,-0.5)]
ge_beta_Ni_up = [(-2.95,0),(-2.65,1.1),(-2.5,4.2),(-2.3,1.1),(-1.7,0.3),(-1.55,8),(-1.3,8),(-1.15,3.8),(-1.05,0.7),(-0.95,8),(-0.8,8),(-0.7,0.7),(-0.35,1.85),(-0.15,1.45),(0.1,1.85),(0.35,2.05),(0.57,3.0),(0.75,1.3),(1.1,0.3),(1.25,0),(2.0,0)]
ge_beta_Ni_dn = [(-2.95,0),(-2.65,-1.45),(-2.5,-3.8),(-2.25,-1.45),(-1.7,-0.3),(-1.45,-1.25),(-1.3,-8),(-1.1,-8),(-1.05,-0.45),(-1.0,-0.1),(-0.95,-8),(-0.75,-8),(-0.65,-1.25),(-0.45,-0.45),(-0.3,-1.45),(0.0,-1.25),(0.35,-1.65),(0.57,-2.05),(0.85,-1.05),(1.2,-0.1),(2.0,0)]
ge_gamma_Ni_up = [(-2.95,0),(-2.7,1.1),(-2.55,4.4),(-2.35,1.1),(-2.1,0.7),(-1.85,1.45),(-1.6,8),(-1.4,8),(-1.35,1.85),(-1.2,8),(-1.05,8),(-0.95,1.3),(-0.65,0.7),(-0.35,1.45),(0.0,1.85),(0.25,2.05),(0.5,1.85),(0.85,0.7),(1.5,0.1),(2.0,0.1)]
ge_gamma_Ni_dn = [(-2.95,0),(-2.7,-1.25),(-2.55,-4.0),(-2.4,-1.65),(-2.1,-0.45),(-1.85,-1.65),(-1.6,-8),(-1.45,-0.45),(-1.4,-8),(-1.2,-8),(-0.9,-0.45),(-0.55,-1.05),(0.0,-1.05),(0.15,-2.05),(0.55,-1.85),(0.95,-1.05),(1.5,-0.45),(2.0,-0.1)]

ge_alpha_Cu_up = [(-2.3,0),(-2.1,1.05),(-1.97,4.0),(-1.9,1.85),(-1.8,1.85),(-1.75,8),(-1.5,8),(-1.35,1.85),(-1.2,0.65),(-1.06,0.1),(-0.5,0.45),(0.0,1.05),(0.3,1.85),(0.45,2.6),(0.7,2.0),(0.9,2.0),(0.98,0.45),(1.5,0.65),(1.6,1.4),(1.7,0.65),(2.0,0.65)]
ge_alpha_Cu_dn = [(-2.6,0),(-2.45,-1.1),(-2.3,-2.6),(-2.1,-1.25),(-1.9,-1.1),(-1.8,-8),(-1.5,-8),(-1.4,-0.1),(-1.06,-0.3),(-0.7,-0.9),(-0.3,-1.85),(-0.2,-2.8),(0.0,-2.05),(0.2,-2.05),(0.3,-0.3),(0.9,-0.3),(1.0,-0.9),(1.4,-0.7),(2.0,-0.5)]
ge_beta_Cu_up = [(-2.5,0),(-2.3,1.05),(-2.15,2.6),(-2.05,8),(-1.95,8),(-1.8,0.3),(-1.7,1.85),(-1.6,8),(-1.3,8),(-1.25,1.85),(-0.95,0.65),(-0.65,0.1),(-0.35,1.45),(0.0,0.85),(0.3,1.25),(0.55,2.0),(0.95,2.0),(1.2,0.65),(1.45,0),(2.0,0)]
ge_beta_Cu_dn = [(-2.5,0),(-2.3,-1.3),(-2.1,-8),(-1.95,-8),(-1.8,-0.1),(-1.6,-8),(-1.3,-8),(-1.15,-1.1),(-0.8,-0.5),(-0.65,-0.1),(-0.35,-1.3),(0.0,-1.1),(0.35,-1.25),(0.7,-2.25),(0.95,-2.25),(1.2,-1.1),(1.45,0),(2.0,0)]
ge_gamma_Cu_up = [(-2.95,0),(-2.8,1.45),(-2.7,8),(-2.55,8),(-2.5,2.8),(-2.45,0.65),(-2.35,8),(-2.05,8),(-1.95,2.6),(-1.65,0.65),(-1.0,0.1),(-0.85,1.25),(-0.45,0.85),(0.0,2.0),(0.25,1.85),(0.55,0.65),(1.3,0.1),(2.0,0)]
ge_gamma_Cu_dn = [(-2.95,0),(-2.8,-1.3),(-2.6,-8),(-2.4,-8),(-2.35,-0.5),(-2.3,-8),(-2.05,-8),(-1.95,-1.1),(-1.6,-0.5),(-1.0,-0.1),(-0.85,-1.1),(-0.65,-1.1),(-0.2,-1.85),(0.1,-2.05),(0.4,-1.1),(0.8,-0.5),(1.3,-0.1),(2.0,0)]

ge_alpha_Zn_up = [(-3.3,0),(-3.15,1.1),(-2.98,2.5),(-2.8,2.1),(-2.55,0.25),(-2.4,0),(-1.5,0),(-1.25,0.3),(-0.75,0.7),(-0.35,1.3),(-0.1,2.7),(0.0,3.0),(0.1,2.2),(0.35,2.1),(0.42,0.7),(0.7,0.7),(0.73,2.9),(0.78,0.7),(1.15,0.5),(1.3,0),(2.0,0)]
ge_alpha_Zn_dn = [(-3.3,0),(-3.15,-1.1),(-2.98,-2.45),(-2.7,-1.65),(-2.4,0),(-1.5,0),(-1.25,-0.3),(-0.75,-0.7),(-0.35,-1.3),(-0.1,-2.45),(0.0,-3.0),(0.1,-2.2),(0.35,-2.05),(0.42,-0.85),(0.7,-0.85),(0.75,-3.0),(0.82,-0.85),(1.15,-0.5),(1.3,0),(2.0,0)]
ge_beta_Zn_up = [(-3.62,0),(-3.25,1.1),(-3.03,1.9),(-2.9,1.1),(-2.5,0.5),(-1.5,0.1),(-0.94,0),(-0.85,1.9),(-0.65,1.45),(-0.35,1.3),(-0.1,2.3),(0.2,2.3),(0.4,1.1),(0.65,0),(0.95,0),(1.5,0.3),(2.0,0.4)]
ge_beta_Zn_dn = [(-3.62,0),(-3.3,-1.65),(-3.2,-3.2),(-3.05,-1.25),(-2.3,-0.45),(-1.1,-0.1),(-1.0,-0.1),(-0.9,-1.65),(-0.6,-1.25),(-0.35,-1.65),(-0.1,-2.45),(0.0,-2.45),(0.4,-0.45),(0.65,0),(1.6,-0.45),(2.0,-0.85)]
ge_gamma_Zn_up = [(-3.3,0),(-3.25,8),(-3.2,8),(-3.15,1.1),(-2.75,0.3),(-1.5,0.1),(-1.1,0),(-0.95,1.3),(-0.65,1.1),(-0.2,1.9),(0.1,1.7),(0.4,0.7),(1.0,0.1),(1.3,0.1),(1.6,0.7),(2.0,0.9)]
ge_gamma_Zn_dn = [(-3.35,0),(-3.25,-8),(-3.2,-8),(-3.1,-1.25),(-2.6,-0.45),(-1.1,-0.1),(-0.95,-1.25),(-0.65,-0.85),(-0.2,-2.05),(0.1,-2.05),(0.55,-0.7),(1.0,-0.1),(1.3,-0.1),(1.6,-0.3),(2.0,-0.85)]

# ---------------- style ----------------
sns.set_theme(style='ticks')
plt.rcParams['font.family'] = ['Liberation Serif', 'DejaVu Serif']
plt.rcParams['mathtext.fontset'] = 'custom'
plt.rcParams['mathtext.rm'] = 'Liberation Serif'
plt.rcParams['mathtext.it'] = 'Liberation Serif:italic'
plt.rcParams['axes.unicode_minus'] = False

W, H = 1387, 1005
DPI = 100
XLIM = (-5.0, 2.0)
YLIM = (-5.1, 4.95)
GROUP_X = {'ga': 74, 'ge': 761}
GROUP_W = 610
ROW_TOP0, ROW_PITCH, ROW_H = 12, 93.8, 86
UP_COLOR, DN_COLOR = '#ff0000', '#0000ff'
LABEL_Y = {'ga': {'alpha': 0.655, 'beta': 0.655, 'gamma': 0.75},
           'ge': {'alpha': 0.70, 'beta': 0.69, 'gamma': 0.785}}
BADGE_POS = {'ga': (522, 191), 'ge': (1208, 189)}
YLABEL_X = {'ga': 25, 'ge': 712}

fig = plt.figure(figsize=(W / DPI, H / DPI), dpi=DPI)


def draw_curve(ax, pts, color):
    xs = [p[0] for p in pts]
    ys = [p[1] for p in pts]
    if xs[0] > XLIM[0]:
        xs = [XLIM[0]] + xs
        ys = [0.0] + ys
    if xs[-1] < XLIM[1]:
        xs = xs + [XLIM[1]]
        ys = ys + [ys[-1]]
    sns.lineplot(x=xs, y=ys, ax=ax, color=color, linewidth=0.95,
                 sort=False, estimator=None, legend=False, zorder=3)


col_w = GROUP_W / 3
for g in COMPOUNDS:
    for c, s in enumerate(STRUCTS):
        for r, el in enumerate(ELEMENTS):
            left = (GROUP_X[g] + c * col_w) / W
            bottom = 1 - (ROW_TOP0 + r * ROW_PITCH + ROW_H) / H
            ax = fig.add_axes([left, bottom, col_w / W, ROW_H / H])
            ax.axhline(0, color='black', lw=0.8, zorder=1)
            ax.axvline(0, color='black', lw=0.8, zorder=4)
            draw_curve(ax, globals()[f'{g}_{s}_{el}_up'], UP_COLOR)
            draw_curve(ax, globals()[f'{g}_{s}_{el}_dn'], DN_COLOR)
            ax.set_xlim(*XLIM)
            ax.set_ylim(*YLIM)
            ax.set_xticks(X_TICKS)
            ax.set_xticks([-3, -1, 1], minor=True)
            ax.set_yticks(Y_TICKS)
            ax.set_yticks([-4.5, -1.5, 1.5, 4.5], minor=True)
            ax.tick_params(which='both', direction='in', top=True, right=True,
                           width=1.0, labelsize=16, pad=4)
            ax.tick_params(which='major', length=5)
            ax.tick_params(which='minor', length=3)
            ax.tick_params(axis='x', which='minor', length=5)
            for sp in ax.spines.values():
                sp.set_linewidth(1.6)
                sp.set_color('black')
            ax.set_xlabel('')
            ax.set_ylabel('')
            if c == 0:
                ax.set_yticklabels([str(t) for t in Y_TICKS])
                ax.text(0.055, 0.14, el, transform=ax.transAxes, fontsize=19,
                        fontweight='bold', family='Liberation Sans',
                        ha='left', va='baseline', zorder=6)
            else:
                ax.set_yticklabels([])
            if r == len(ELEMENTS) - 1:
                ax.set_xticklabels([str(t) for t in X_TICKS])
            else:
                ax.set_xticklabels([])
            if r == 0:
                ax.text(0.06, LABEL_Y[g][s], s, transform=ax.transAxes,
                        fontsize=23.5, fontweight='bold', style='italic',
                        ha='left', va='baseline', zorder=6)

    # group-level labels
    gx_center = GROUP_X[g] + GROUP_W / 2
    fig.text(YLABEL_X[g] / W, 1 - 428 / H, Y_LABEL, rotation=90,
             ha='center', va='center', fontsize=23.5)
    fig.text(gx_center / W, 1 - 984 / H, X_LABEL, ha='center', va='center',
             fontsize=23.5)
    bx, by = BADGE_POS[g]
    fig.text(bx / W, 1 - by / H, COMPOUND_LABELS[g], ha='center', va='center',
             fontsize=35, fontweight='bold', style='italic', zorder=10,
             bbox=dict(boxstyle='square,pad=0.12', facecolor='#f8f46a',
                       edgecolor='none'))

fig.savefig('out.png', dpi=DPI)
